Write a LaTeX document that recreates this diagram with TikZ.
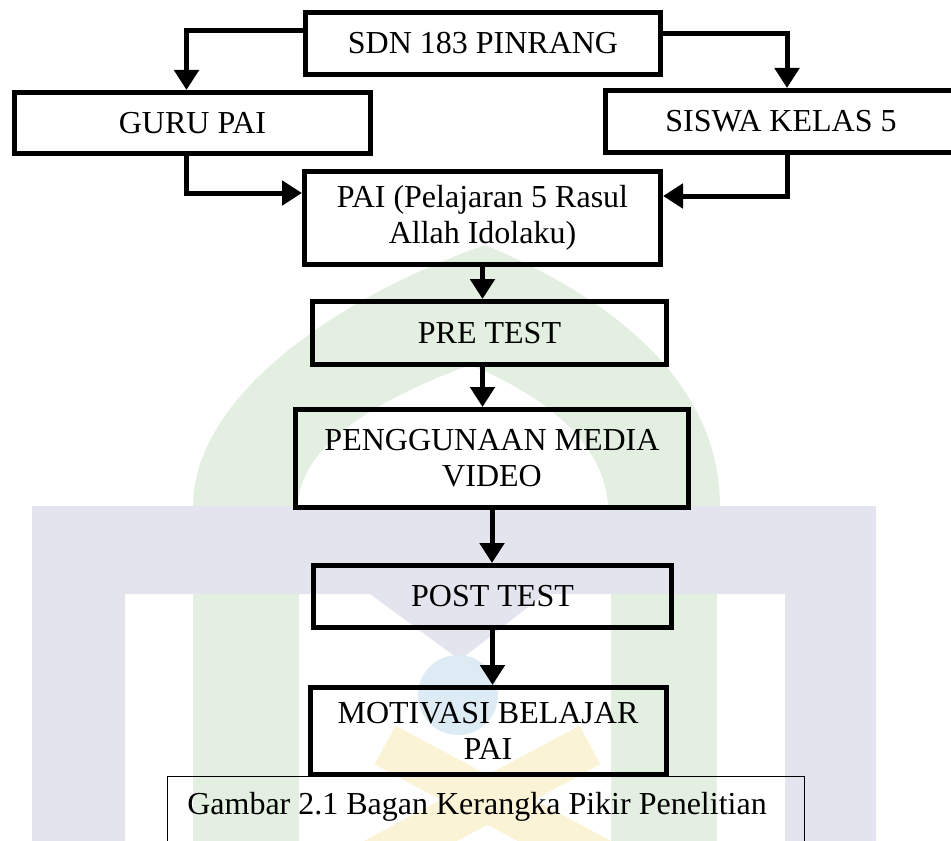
\documentclass[tikz,border=0pt]{standalone}
\usepackage{fontspec}
\setmainfont{Liberation Serif}
\usetikzlibrary{arrows.meta}

\definecolor{wmlavender}{HTML}{E4E4EE}
\definecolor{wmgreen}{HTML}{E3EFE1}
\definecolor{wmblue}{HTML}{DDEBF4}
\definecolor{wmyellow}{HTML}{FBF3D6}

\begin{document}
\begin{tikzpicture}[x=0.5pt,y=-0.5pt,
  box/.style={draw, line width=2.5pt, align=center, inner sep=0pt,
              font=\fontsize{16}{18}\selectfont},
  arrow/.style={line width=2.5pt, -{Triangle[width=12pt,length=10pt]}}]
\useasboundingbox (0,0) rectangle (951,840);
% watermark in the back
\fill [wmgreen] (193,506) .. controls (193,400) and (330,300) .. (485,245)
      .. controls (640,310) and (720,400) .. (720,506) -- cycle;
\fill [white] (298,506) .. controls (300,440) and (390,395) .. (470,365)
      .. controls (555,400) and (605,450) .. (608,506) -- cycle;
\fill [wmlavender, even odd rule] (32,506) rectangle (876,850) (125,594) rectangle (785,850);
\fill [wmlavender] (370,594) -- (545,594) -- (460,660) -- cycle;
\fill [wmgreen] (193,594) rectangle (299,850);
\fill [wmgreen] (611,594) rectangle (717,850);
\fill [wmblue] (458,695) circle [radius=40];
\draw [wmyellow, line width=22pt] (385,745) -- (600,860);
\draw [wmyellow, line width=22pt] (590,745) -- (375,860);
% boxes
\path (483,43.5)   node [box,minimum width=177.5pt,minimum height=31pt]   (sdn)      {SDN 183 PINRANG};
\path (192.5,123)  node [box,minimum width=178pt,minimum height=30.5pt]   (guru)     {GURU PAI};
\path (781,121.5)  node [box,minimum width=175.5pt,minimum height=31pt]   (siswa)    {SISWA KELAS 5};
\path (482.5,218)  node [box,minimum width=178pt,minimum height=46.5pt]   (pai)      {PAI (Pelajaran 5 Rasul\\Allah Idolaku)};
\path (489.5,333)  node [box,minimum width=177pt,minimum height=31.5pt]   (pre)      {PRE TEST};
\path (492,458.5)  node [box,minimum width=196.5pt,minimum height=49pt]   (media)    {PENGGUNAAN MEDIA\\VIDEO};
\path (492.5,596.5) node [box,minimum width=179pt,minimum height=31pt]    (post)     {POST TEST};
\path (488,731)    node [box,minimum width=178pt,minimum height=43.5pt]   (motivasi) {MOTIVASI BELAJAR\\PAI};
\path (477,807)    node [font=\fontsize{16}{18}\selectfont]               (caption)  {Gambar 2.1 Bagan Kerangka Pikir Penelitian};
\draw [line width=0.5pt] (167,860) |- (804,776) -- (804,860);
% arrows
\draw [arrow] ([yshift=6.5pt]sdn.west) -| ([xshift=-3pt]guru.north);
\draw [arrow] ([yshift=5pt]sdn.east) -| ([xshift=3pt]siswa.north);
\draw [arrow] ([xshift=-3pt]guru.south) |- ([yshift=12.5pt]pai.west);
\draw [arrow] ([xshift=3pt]siswa.south) |- ([yshift=11pt]pai.east);
\draw [arrow] (pai.south) -- (pai.south |- pre.north);
\draw [arrow] (pai.south |- pre.south) -- (pai.south |- media.north);
\draw [arrow] (media.south) -- (media.south |- post.north);
\draw [arrow] (post.south) -- (post.south |- motivasi.north);
\end{tikzpicture}
\end{document}
